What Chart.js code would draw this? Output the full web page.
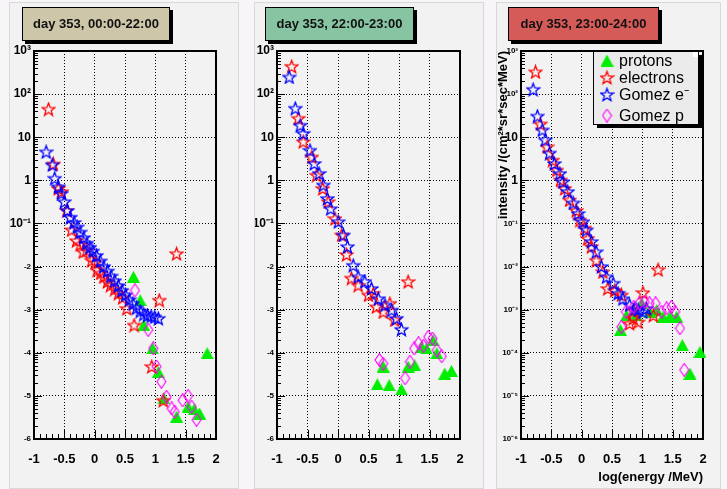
<!DOCTYPE html>
<html>
<head>
<meta charset="utf-8">
<script src="https://cdn.jsdelivr.net/npm/chart.js@4"></script>
<style>
  body { margin: 0; background: #f8f5f8; }
  #wrap { position: relative; width: 727px; height: 489px; overflow: hidden; }
  canvas { position: absolute; top: 3px; background: #f2f2f2; box-shadow: 0 0 0 1px #d8d8d8; }
  .title {
    position: absolute; top: 7px; height: 34px; box-sizing: border-box;
    border: 1px solid #000; box-shadow: 3px 3px 0 #000;
    font: bold 13px "Liberation Sans", Arial, sans-serif; line-height: 32px;
    text-align: center; color: #111;
  }
</style>
</head>
<body>
<div id="wrap">
  <canvas id="c1" width="228" height="485" style="left:10px"></canvas>
  <canvas id="c2" width="228" height="485" style="left:255px"></canvas>
  <canvas id="c3" width="223" height="485" style="left:497px"></canvas>
  <div class="title" style="left:22px;width:148px;background:#cdc6a9">day 353, 00:00-22:00</div>
  <div class="title" style="left:265px;width:149px;background:#86c4a2">day 353, 22:00-23:00</div>
  <div class="title" style="left:508px;width:151px;background:#d55b59">day 353, 23:00-24:00</div>
</div>
<script>
// ---- tick labels
var xTickValues = [-1, -0.5, 0, 0.5, 1, 1.5, 2];
var xTickLabels = ['-1', '-0.5', '0', '0.5', '1', '1.5', '2'];
var yTickValues = [1e-6, 1e-5, 1e-4, 1e-3, 1e-2, 1e-1, 1, 10, 1e2, 1e3];
var yTickLabelsShort = ['-6', '-5', '-4', '-3', '-2', '10⁻¹', '1', '10', '10²', '10³'];
var yTickLabelsFull = ['10⁻⁶', '10⁻⁵', '10⁻⁴', '10⁻³', '10⁻²', '10⁻¹', '1', '10', '10²', '10³'];
var seriesNames = ['protons', 'electrons', 'Gomez e⁻', 'Gomez p'];

// ---- panel 1: day 353, 00:00-22:00
var p1ProtonsX = [0.64, 0.75, 0.81, 0.955, 1.05, 1.14, 1.35, 1.54, 1.64, 1.73, 1.855];
var p1ProtonsY = [0.0058, 0.00166, 0.00044, 0.000126, 0.000036, 0.0000087, 0.0000033, 0.0000056, 0.0000049, 0.0000039, 0.000098];
var p1ElectronsX = [-0.76, -0.68, -0.60, -0.55, -0.46, -0.38, -0.30, -0.24, -0.19, -0.13, -0.05, 0.01, 0.04, 0.10, 0.15, 0.21, 0.26, 0.33, 0.39, 0.46, 0.53, 0.65, 0.94, 1.065, 1.13, 1.35];
var p1ElectronsY = [45, 2.4, 0.65, 0.55, 0.20, 0.071, 0.040, 0.033, 0.022, 0.024, 0.014, 0.0126, 0.0083, 0.0071, 0.0058, 0.0045, 0.0037, 0.0030, 0.0024, 0.0019, 0.00107, 0.00044, 0.000048, 0.00166, 0.0000079, 0.020];
var p1GomezEX = [-0.80, -0.70, -0.66, -0.60, -0.55, -0.50, -0.45, -0.40, -0.34, -0.29, -0.24, -0.18, -0.13, -0.08, -0.03, 0.03, 0.09, 0.15, 0.21, 0.27, 0.33, 0.39, 0.45, 0.51, 0.57, 0.63, 0.69, 0.75, 0.81, 0.87, 0.93, 0.99, 1.05];
var p1GomezEY = [4.6, 2.3, 1.12, 0.71, 0.50, 0.32, 0.20, 0.14, 0.105, 0.083, 0.063, 0.047, 0.035, 0.028, 0.023, 0.018, 0.0135, 0.010, 0.0079, 0.0060, 0.0047, 0.0036, 0.0028, 0.0022, 0.0017, 0.0014, 0.0011, 0.00093, 0.00079, 0.00074, 0.00071, 0.00068, 0.00063];
var p1GomezPX = [0.664, 0.883, 0.966, 1.02, 1.10, 1.186, 1.27, 1.32, 1.45, 1.54, 1.60, 1.68];
var p1GomezPY = [0.0028, 0.00034, 0.000126, 0.000048, 0.0000214, 0.0000095, 0.0000051, 0.0000043, 0.0000079, 0.0000100, 0.0000056, 0.0000028];

// ---- panel 2: day 353, 22:00-23:00
var p2ProtonsX = [0.645, 0.74, 0.84, 1.04, 1.15, 1.26, 1.37, 1.45, 1.56, 1.62, 1.75, 1.86];
var p2ProtonsY = [0.0000186, 0.000048, 0.0000178, 0.0000141, 0.000048, 0.000051, 0.000138, 0.000126, 0.000195, 0.000098, 0.000033, 0.000038];
var p2ElectronsX = [-0.76, -0.65, -0.57, -0.43, -0.35, -0.25, -0.16, -0.05, 0.06, 0.14, 0.22, 0.33, 0.50, 0.58, 0.63, 0.74, 0.85, 0.93, 1.15];
var p2ElectronsY = [440, 27.5, 7.9, 3.5, 1.32, 0.65, 0.32, 0.13, 0.054, 0.019, 0.0054, 0.0037, 0.0022, 0.0024, 0.00117, 0.00089, 0.0014, 0.00058, 0.0045];
var p2GomezEX = [-0.80, -0.70, -0.62, -0.57, -0.46, -0.39, -0.31, -0.24, -0.175, -0.12, 0.005, 0.09, 0.155, 0.25, 0.33, 0.44, 0.55, 0.66, 0.77, 0.88, 0.96, 1.04];
var p2GomezEY = [250, 47, 19, 12.3, 5.0, 2.45, 1.45, 0.78, 0.38, 0.22, 0.11, 0.054, 0.029, 0.0107, 0.0058, 0.0045, 0.0031, 0.0018, 0.00129, 0.00098, 0.00063, 0.00035];
var p2GomezPX = [0.68, 0.74, 1.10, 1.18, 1.25, 1.32, 1.40, 1.48, 1.55, 1.62, 1.70];
var p2GomezPY = [0.000068, 0.000056, 0.0000257, 0.000062, 0.000126, 0.000166, 0.000145, 0.000234, 0.000214, 0.000115, 0.000083];

// ---- panel 3: day 353, 23:00-24:00
var p3ProtonsX = [0.64, 0.74, 0.90, 0.99, 1.12, 1.235, 1.34, 1.455, 1.565, 1.66, 1.785, 1.95];
var p3ProtonsY = [0.00034, 0.00074, 0.00074, 0.0014, 0.00089, 0.00098, 0.00069, 0.00069, 0.00069, 0.000151, 0.000033, 0.000105];
var p3ElectronsX = [-0.76, -0.68, -0.57, -0.48, -0.41, -0.35, -0.28, -0.20, -0.09, -0.03, 0.05, 0.10, 0.16, 0.24, 0.35, 0.43, 0.545, 0.655, 0.79, 0.85, 0.85, 0.93, 1.01, 1.18, 1.26];
var p3ElectronsY = [330, 20.4, 6.0, 2.95, 1.74, 1.02, 0.65, 0.35, 0.20, 0.12, 0.078, 0.045, 0.029, 0.014, 0.0076, 0.0031, 0.0028, 0.0022, 0.00048, 0.00063, 0.00098, 0.00052, 0.0025, 0.00074, 0.0085];
var p3GomezEX = [-0.80, -0.73, -0.65, -0.60, -0.53, -0.45, -0.36, -0.31, -0.23, -0.14, -0.06, 0.02, 0.08, 0.16, 0.24, 0.325, 0.41, 0.52, 0.60, 0.68, 0.79, 0.88, 0.93, 1.01, 1.07];
var p3GomezEY = [129, 31, 14.8, 8.7, 4.3, 2.45, 1.45, 0.93, 0.55, 0.30, 0.17, 0.11, 0.071, 0.038, 0.022, 0.010, 0.0058, 0.0041, 0.0024, 0.0018, 0.00129, 0.00107, 0.00100, 0.00089, 0.00107];
var p3GomezPX = [0.655, 0.73, 0.86, 0.95, 1.04, 1.12, 1.22, 1.32, 1.40, 1.48, 1.54, 1.62, 1.69];
var p3GomezPY = [0.00040, 0.00089, 0.00117, 0.0014, 0.0015, 0.0014, 0.0014, 0.00089, 0.00107, 0.00117, 0.00089, 0.00037, 0.000040];

Chart.defaults.font.family = '"Liberation Sans", Arial, sans-serif';
Chart.defaults.color = '#000';

// ---- marker images (ROOT style markers)
function starImage(color) {
    var c = document.createElement('canvas');
    c.width = 15; c.height = 15;
    var g = c.getContext('2d');
    g.strokeStyle = color;
    g.lineWidth = 1.3;
    g.beginPath();
    for (var i = 0; i < 10; i++) {
        var r = i % 2 ? 2.8 : 6.7;
        var a = -Math.PI / 2 + i * Math.PI / 5;
        var px = 7.5 + r * Math.cos(a), py = 8.2 + r * Math.sin(a);
        if (i) g.lineTo(px, py); else g.moveTo(px, py);
    }
    g.closePath();
    g.stroke();
    return c;
}
function triangleImage() {
    var c = document.createElement('canvas');
    c.width = 13; c.height = 12;
    var g = c.getContext('2d');
    g.fillStyle = '#00ee00';
    g.beginPath();
    g.moveTo(6.5, 0); g.lineTo(13, 12); g.lineTo(0, 12);
    g.closePath();
    g.fill();
    return c;
}
function diamondImage() {
    var c = document.createElement('canvas');
    c.width = 11; c.height = 14;
    var g = c.getContext('2d');
    g.strokeStyle = '#ff00ff';
    g.lineWidth = 1.1;
    g.beginPath();
    g.moveTo(5.5, 0.5); g.lineTo(10, 7); g.lineTo(5.5, 13.5); g.lineTo(1, 7);
    g.closePath();
    g.stroke();
    return c;
}
var markers = [triangleImage(), starImage('#ff0000'), starImage('#0000ff'), diamondImage()];

function points(xs, ys) {
    return xs.map(function (x, i) { return { x: x, y: ys[i] }; });
}

// frame + inside ticks, like ROOT axes
var frameTicks = {
    id: 'frameTicks',
    beforeDatasetsDraw: function (chart) {
        var ctx = chart.ctx, a = chart.chartArea, x = chart.scales.x, y = chart.scales.y;
        ctx.save();
        ctx.strokeStyle = '#000';
        ctx.lineWidth = 1;
        ctx.beginPath();
        for (var i = -10; i <= 20; i++) {
            var px = Math.round(x.getPixelForValue(i / 10)) + 0.5;
            var len = i % 5 === 0 ? 9 : 5;
            ctx.moveTo(px, a.bottom);
            ctx.lineTo(px, a.bottom - len);
        }
        for (var e = -6; e < 3; e++) {
            for (var k = 1; k < 10; k++) {
                var py = Math.round(y.getPixelForValue(k * Math.pow(10, e))) + 0.5;
                ctx.moveTo(a.left, py);
                ctx.lineTo(a.left + (k === 1 ? 8 : 4), py);
            }
        }
        ctx.stroke();
        ctx.lineWidth = 2;
        ctx.strokeRect(a.left, a.top, a.right - a.left, a.bottom - a.top);
        ctx.restore();
    }
};

// legend box drawn over the plot (only on last panel)
var legendBox = {
    id: 'legendBox',
    afterDatasetsDraw: function (chart) {
        var ctx = chart.ctx, a = chart.chartArea;
        var bx = a.right - 110, by = a.top, bw = 105, bh = 73;
        ctx.save();
        ctx.fillStyle = '#000';
        ctx.fillRect(bx + 4, by + 4, bw, bh);
        ctx.fillStyle = '#ebebeb';
        ctx.fillRect(bx, by, bw, bh);
        ctx.strokeStyle = '#000';
        ctx.lineWidth = 1;
        ctx.strokeRect(bx + 0.5, by + 0.5, bw, bh);
        ctx.fillStyle = '#fff';
        ctx.fillRect(bx + bw - 5, by + 1, 5, 5);
        var baselines = [15, 32, 49, 70];
        ctx.font = '16px "Liberation Sans", Arial, sans-serif';
        ctx.textBaseline = 'alphabetic';
        ctx.fillStyle = '#000';
        chart.data.datasets.forEach(function (ds, i) {
            var img = ds.pointStyle;
            var cy = by + baselines[i] - 5.5;
            ctx.drawImage(img, bx + 14 - img.width / 2, cy - img.height / 2);
            ctx.fillText(ds.label, bx + 26, by + baselines[i]);
        });
        ctx.restore();
    }
};

function makePanel(id, sets, yLabels, bigValues, padRight, yWidth, withTitles) {
    var datasets = sets.map(function (s, i) {
        return {
            label: seriesNames[i],
            data: points(s[0], s[1]),
            pointStyle: markers[i],
            pointRadius: 5,
            showLine: false,
            clip: false,
            order: 4 - i
        };
    });
    var plugins = [frameTicks];
    if (withTitles) plugins.push(legendBox);

    new Chart(document.getElementById(id), {
        type: 'scatter',
        data: { datasets: datasets },
        plugins: plugins,
        options: {
            responsive: false,
            animation: false,
            events: [],
            layout: { padding: { top: 48, right: padRight, left: 0, bottom: 0 } },
            plugins: { legend: { display: false }, tooltip: { enabled: false } },
            scales: {
                x: {
                    type: 'linear',
                    min: -1,
                    max: 2,
                    afterBuildTicks: function (s) {
                        s.ticks = xTickValues.map(function (v) { return { value: v }; });
                    },
                    afterFit: function (s) { s.height = 49; },
                    grid: { color: '#000', lineWidth: 1, drawTicks: false, borderDash: [1, 2] },
                    border: { display: false, dash: [1, 2] },
                    ticks: {
                        autoSkip: false,
                        maxRotation: 0,
                        padding: 13,
                        font: { size: 13, weight: 'bold' },
                        callback: function (v, i) { return xTickLabels[i]; }
                    },
                    title: {
                        display: withTitles,
                        text: 'log(energy /MeV)',
                        align: 'end',
                        padding: { top: 0, bottom: 3 },
                        font: { size: 13, weight: 'bold' }
                    }
                },
                y: {
                    type: 'logarithmic',
                    min: 1e-6,
                    max: 1e3,
                    afterBuildTicks: function (s) {
                        s.ticks = yTickValues.map(function (v) { return { value: v }; });
                    },
                    afterFit: function (s) { s.width = yWidth; },
                    grid: { color: '#000', lineWidth: 1, drawTicks: false, borderDash: [1, 2] },
                    border: { display: false, dash: [1, 2] },
                    ticks: {
                        autoSkip: false,
                        padding: 3,
                        font: function (c) {
                            var big = c.tick && bigValues.indexOf(c.tick.value) >= 0;
                            return big ? { size: 12, weight: 'bold' } : { size: 8, weight: 'bold' };
                        },
                        callback: function (v, i) { return yLabels[i]; }
                    },
                    title: {
                        display: withTitles,
                        text: 'intensity /(cm²*sr*sec*MeV)',
                        align: 'end',
                        padding: 0,
                        font: { size: 13, weight: 'bold', lineHeight: 1 }
                    }
                }
            }
        }
    });
}

makePanel('c1', [[p1ProtonsX, p1ProtonsY], [p1ElectronsX, p1ElectronsY], [p1GomezEX, p1GomezEY], [p1GomezPX, p1GomezPY]],
    yTickLabelsShort, [0.1, 1, 10, 100, 1000], 22, 24, false);
makePanel('c2', [[p2ProtonsX, p2ProtonsY], [p2ElectronsX, p2ElectronsY], [p2GomezEX, p2GomezEY], [p2GomezPX, p2GomezPY]],
    yTickLabelsShort, [0.1, 1, 10, 100, 1000], 23, 22, false);
makePanel('c3', [[p3ProtonsX, p3ProtonsY], [p3ElectronsX, p3ElectronsY], [p3GomezEX, p3GomezEY], [p3GomezPX, p3GomezPY]],
    yTickLabelsFull, [1, 10], 17, 24, true);
</script>
</body>
</html>
